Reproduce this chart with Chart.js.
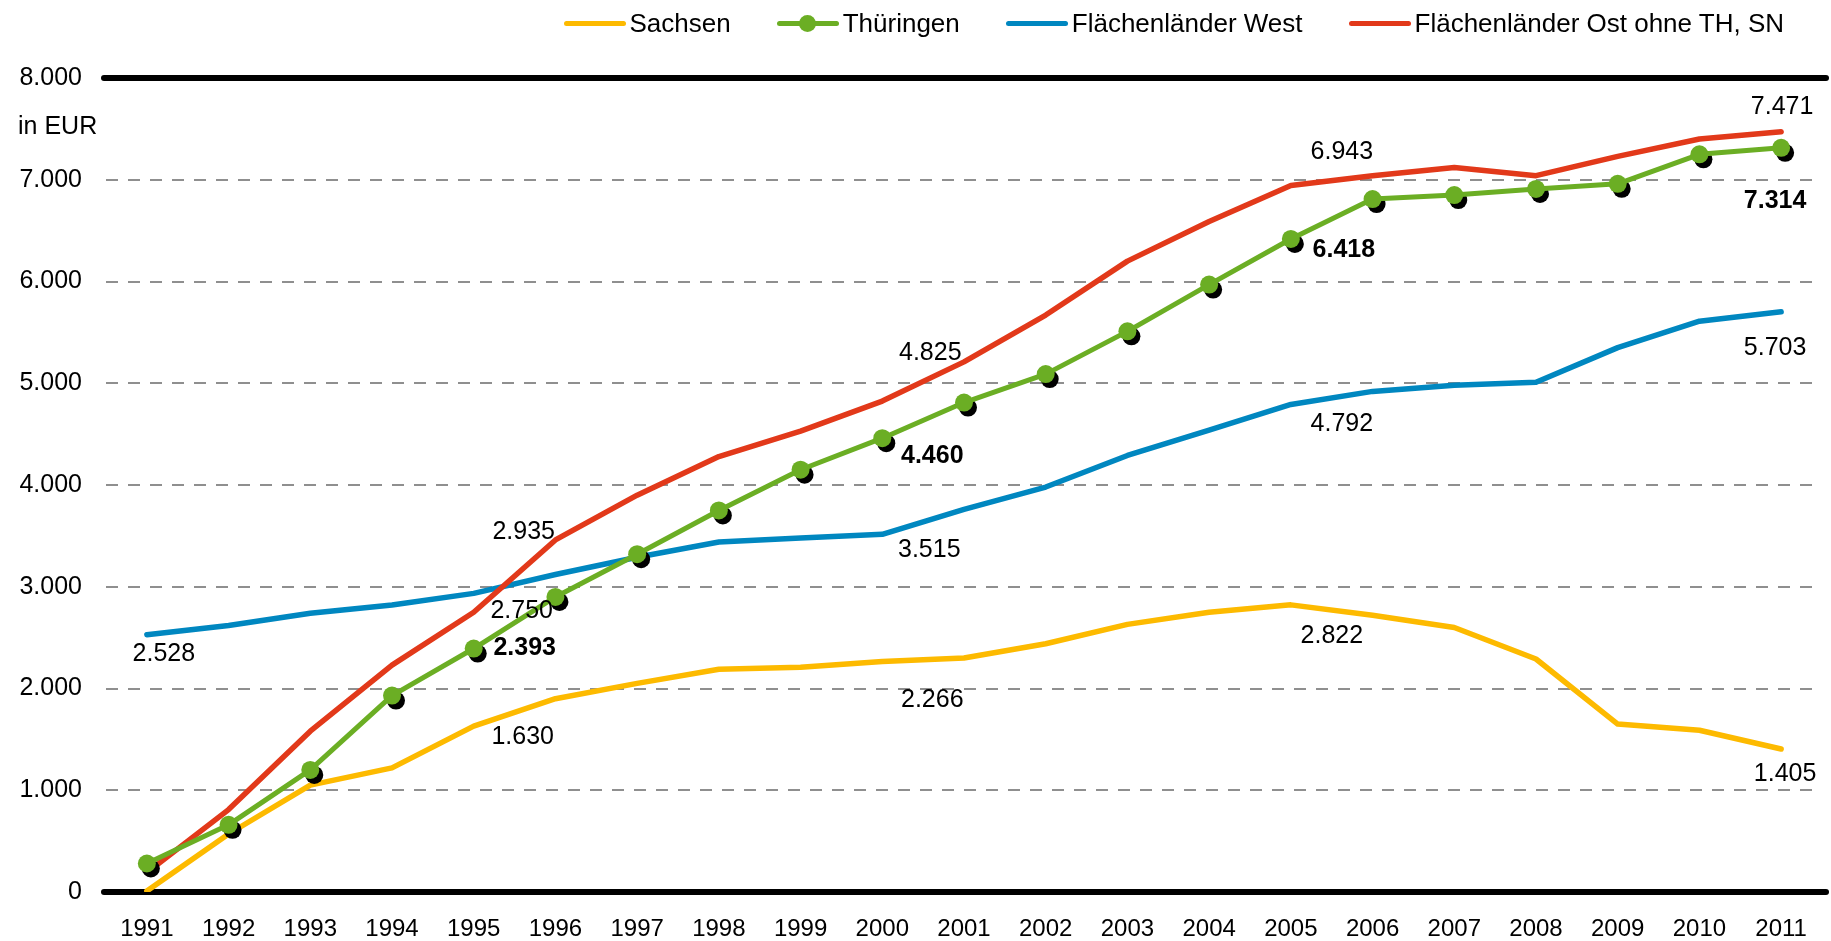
<!DOCTYPE html>
<html>
<head>
<meta charset="UTF-8">
<title>Entwicklung in EUR 1991-2011</title>
<script src="https://cdn.jsdelivr.net/npm/chart.js"></script>
<style>
  html, body { margin: 0; padding: 0; background: #fff; }
  #wrap { position: relative; width: 1831px; height: 941px; }
  #legend {
    position: absolute; top: 8px; right: 47px;
    display: flex; align-items: center;
    font-family: 'Liberation Sans', Arial, sans-serif; font-size: 26px; color: #000;
  }
  .item { display: flex; align-items: center; margin-left: 46px; }
  .item:first-child { margin-left: 0; }
  .swatch { position: relative; width: 62px; height: 5px; border-radius: 3px; margin-right: 4px; }
  .swatch .dot { position: absolute; left: 22px; top: -6px; width: 17px; height: 17px; border-radius: 50%; }
</style>
</head>
<body>
<div id="wrap">
  <canvas id="chart" width="1831" height="941"></canvas>
  <div id="legend"></div>
</div>
<script>
// Daten
var years = ['1991', '1992', '1993', '1994', '1995', '1996', '1997', '1998', '1999', '2000',
             '2001', '2002', '2003', '2004', '2005', '2006', '2007', '2008', '2009', '2010', '2011'];
var sachsen    = [10, 570, 1050, 1220, 1630, 1900, 2050, 2190, 2210, 2266, 2300, 2440, 2630, 2750, 2822, 2720, 2600, 2290, 1650, 1590, 1405];
var thueringen = [280, 660, 1200, 1930, 2393, 2900, 3320, 3750, 4150, 4460, 4810, 5090, 5510, 5970, 6418, 6810, 6850, 6910, 6960, 7250, 7314];
var west       = [2528, 2620, 2740, 2820, 2935, 3120, 3290, 3440, 3480, 3515, 3760, 3980, 4290, 4540, 4792, 4920, 4980, 5010, 5350, 5610, 5703];
var ost        = [190, 810, 1580, 2230, 2750, 3460, 3900, 4280, 4530, 4825, 5210, 5670, 6200, 6590, 6943, 7040, 7120, 7040, 7230, 7400, 7471];
var yTicks = [0, 1000, 2000, 3000, 4000, 5000, 6000, 7000, 8000];

var seriesNames = ['Sachsen', 'Thüringen', 'Flächenländer West', 'Flächenländer Ost ohne TH, SN'];
var seriesColors = ['#FDBA00', '#6BAE24', '#0087C0', '#E2391A'];

// Beschriftete Werte: Reihe (Index), Jahr, Versatz der Beschriftung
var valueLabels = [
  { s: 2, year: '1991', dx: 17, dy: 19 },
  { s: 2, year: '1995', dx: 50, dy: -61 },
  { s: 3, year: '1995', dx: 48, dy: -1 },
  { s: 1, year: '1995', dx: 51, dy: 0 },
  { s: 0, year: '1995', dx: 49, dy: 11 },
  { s: 3, year: '2000', dx: 48, dy: -48 },
  { s: 1, year: '2000', dx: 50, dy: 18 },
  { s: 2, year: '2000', dx: 47, dy: 16 },
  { s: 0, year: '2000', dx: 50, dy: 39 },
  { s: 3, year: '2005', dx: 51, dy: -33 },
  { s: 1, year: '2005', dx: 53, dy: 11 },
  { s: 2, year: '2005', dx: 51, dy: 20 },
  { s: 0, year: '2005', dx: 41, dy: 31 },
  { s: 3, year: '2011', dx: 1, dy: -25 },
  { s: 1, year: '2011', dx: -6, dy: 53 },
  { s: 2, year: '2011', dx: -6, dy: 36 },
  { s: 0, year: '2011', dx: 4, dy: 25 }
];

var FONT = "'Liberation Sans', Arial, sans-serif";

function fmt(v) {
  return String(Math.round(v)).replace(/\B(?=(\d{3})+(?!\d))/g, '.');
}

// Legende als HTML
var legend = document.getElementById('legend');
for (var i = 0; i < seriesNames.length; i++) {
  var item = document.createElement('div');
  item.className = 'item';
  var sw = document.createElement('div');
  sw.className = 'swatch';
  sw.style.background = seriesColors[i];
  if (i === 1) {
    var dot = document.createElement('div');
    dot.className = 'dot';
    dot.style.background = seriesColors[i];
    sw.appendChild(dot);
  }
  var txt = document.createElement('span');
  txt.textContent = seriesNames[i];
  item.appendChild(sw);
  item.appendChild(txt);
  legend.appendChild(item);
}

// Zusatzelemente: schwarze Achsenlinien, "in EUR", Schatten der Punkte, Werte
var extras = {
  id: 'extras',
  beforeDatasetsDraw: function(chart) {
    var ctx = chart.ctx, a = chart.chartArea, y = chart.scales.y;
    ctx.save();
    ctx.strokeStyle = '#000';
    ctx.lineWidth = 6;
    ctx.lineCap = 'round';
    [0, 8000].forEach(function(v) {
      var py = y.getPixelForValue(v);
      ctx.beginPath();
      ctx.moveTo(a.left - 2, py);
      ctx.lineTo(a.right + 4, py);
      ctx.stroke();
    });
    ctx.fillStyle = '#000';
    ctx.font = '25px ' + FONT;
    ctx.textAlign = 'left';
    ctx.textBaseline = 'middle';
    ctx.fillText('in EUR', 18, 127);
    ctx.restore();
  },
  beforeDatasetDraw: function(chart, args) {
    if (args.index !== 1) return;
    var ctx = chart.ctx;
    ctx.save();
    ctx.fillStyle = '#000';
    args.meta.data.forEach(function(pt) {
      ctx.beginPath();
      ctx.arc(pt.x + 4, pt.y + 5, 9, 0, Math.PI * 2);
      ctx.fill();
    });
    ctx.restore();
  },
  afterDatasetsDraw: function(chart) {
    var ctx = chart.ctx, xs = chart.scales.x, ys = chart.scales.y;
    ctx.save();
    ctx.fillStyle = '#000';
    ctx.textAlign = 'center';
    ctx.textBaseline = 'middle';
    valueLabels.forEach(function(l) {
      var idx = years.indexOf(l.year);
      var v = chart.data.datasets[l.s].data[idx];
      ctx.font = (l.s === 1 ? 'bold ' : '') + '25px ' + FONT;
      ctx.fillText(fmt(v), xs.getPixelForValue(idx) + l.dx, ys.getPixelForValue(v) + l.dy);
    });
    ctx.restore();
  }
};

var allData = [sachsen, thueringen, west, ost];
var drawOrder = [3, 0, 2, 1];
var datasets = [];
for (var k = 0; k < allData.length; k++) {
  datasets.push({
    label: seriesNames[k],
    data: allData[k],
    borderColor: seriesColors[k],
    backgroundColor: seriesColors[k],
    borderWidth: k === 1 ? 5 : 5.5,
    borderCapStyle: 'round',
    borderJoinStyle: 'round',
    pointRadius: k === 1 ? 9 : 0,
    pointBorderWidth: 0,
    pointBackgroundColor: seriesColors[k],
    tension: 0,
    order: drawOrder[k]
  });
}

var ctx = document.getElementById('chart').getContext('2d');
var chart = new Chart(ctx, {
  type: 'line',
  data: { labels: years, datasets: datasets },
  options: {
    responsive: false,
    animation: false,
    layout: { padding: { top: 78, right: 7, bottom: 0, left: 0 } },
    plugins: { legend: { display: false }, tooltip: { enabled: false } },
    scales: {
      x: {
        offset: true,
        grid: { display: false, drawTicks: false },
        border: { display: false },
        ticks: { color: '#000', font: { size: 24, family: FONT }, padding: 23, maxRotation: 0, autoSkip: false },
        afterFit: function(s) { s.height = 49; }
      },
      y: {
        min: 0, max: 8000,
        afterBuildTicks: function(s) { s.ticks = yTicks.map(function(v) { return { value: v }; }); },
        ticks: { color: '#000', font: { size: 25, family: FONT }, padding: 24, callback: function(v) { return fmt(v); } },
        grid: {
          drawTicks: false,
          lineWidth: 2,
          color: function(c) { return (c.tick.value === 0 || c.tick.value === 8000) ? 'rgba(0,0,0,0)' : '#8f8f8f'; }
        },
        border: { display: false, dash: [12, 10] },
        afterFit: function(s) { s.width = 106; }
      }
    }
  },
  plugins: [extras]
});
</script>
</body>
</html>
